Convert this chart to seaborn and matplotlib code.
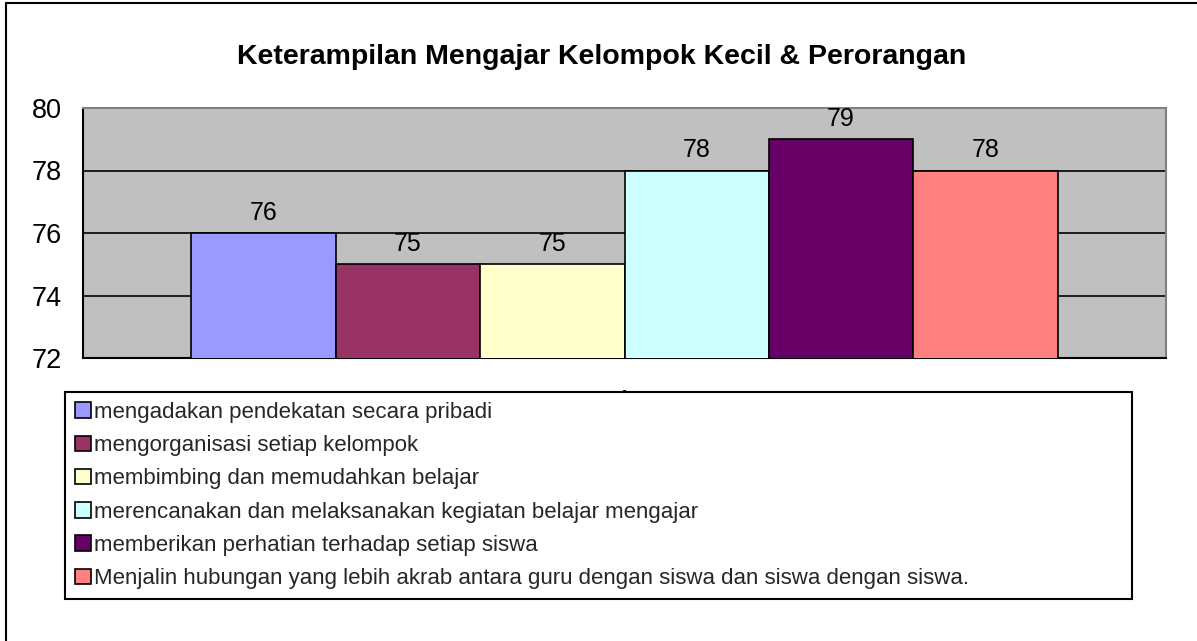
import numpy as np
import pandas as pd
import matplotlib
matplotlib.use('Agg')
import matplotlib.pyplot as plt
import seaborn as sns
from matplotlib.lines import Line2D

# data
categories = [
    'mengadakan pendekatan secara pribadi',
    'mengorganisasi setiap kelompok',
    'membimbing dan memudahkan belajar',
    'merencanakan dan melaksanakan kegiatan belajar mengajar',
    'memberikan perhatian terhadap setiap siswa',
    'Menjalin hubungan yang lebih akrab antara guru dengan siswa dan siswa dengan siswa.',
]
values = [76, 75, 75, 78, 79, 78]
group = ['1'] * len(values)
colors = ['#9999FF', '#993366', '#FFFFCC', '#CCFFFF', '#660066', '#FF8080']
title = 'Keterampilan Mengajar Kelompok Kecil & Perorangan'

df = pd.DataFrame({'group': group, 'aspek': categories, 'nilai': values})

sns.set_theme(style='white')
plt.rcParams['font.family'] = ['Liberation Sans', 'DejaVu Sans']

fig = plt.figure(figsize=(11.97, 6.41), dpi=100)
W, H = 1197, 641
ax = fig.add_axes([83 / W, 1 - 358 / H, (1166 - 83) / W, (358 - 108) / H])
ax.set_facecolor('#C0C0C0')

sns.barplot(data=df, x='group', y='nilai', hue='aspek', hue_order=categories,
            palette=colors, width=0.8, edgecolor='black', linewidth=1.2,
            saturation=1, ax=ax, zorder=3)

ax.set_ylim(72, 80)
ax.set_xlim(-0.5, 0.5)
ax.set_yticks([72, 74, 76, 78, 80])
ax.yaxis.grid(True, color='black', linewidth=1.2, zorder=0)
ax.set_axisbelow(True)
ax.tick_params(axis='y', length=0, pad=15, labelsize=19.5, labelcolor='black')
ax.tick_params(axis='x', length=0, pad=22, labelsize=19, labelcolor='black')
ax.set_xlabel('')
ax.set_ylabel('')

for c in ax.containers:
    ax.bar_label(c, fmt='%d', padding=6, fontsize=18, color='black')

for s in ['top', 'right']:
    ax.spines[s].set_color('#808080')
    ax.spines[s].set_linewidth(1.5)
for s in ['left', 'bottom']:
    ax.spines[s].set_color('black')
    ax.spines[s].set_linewidth(1.5)

fig.text(602 / W, 1 - 57 / H, title, ha='center', va='center',
         fontsize=20.5, fontweight='bold', color='black')

ax.get_legend().remove()
handles, labels = ax.get_legend_handles_labels()
leg_top = 1 - 392 / H
leg = fig.legend(handles, labels, loc='upper left',
                 bbox_to_anchor=(65 / W, leg_top - 0.4, (1132 - 65) / W, 0.4),
                 mode='expand', fontsize=16,
                 frameon=True, fancybox=False, edgecolor='black',
                 facecolor='white', framealpha=1, handlelength=0.7,
                 handleheight=0.7, handletextpad=0.15, labelspacing=0.55,
                 borderpad=0.45, borderaxespad=0)
leg.get_frame().set_linewidth(1.5)
leg.set_zorder(10)

# outer chart frame
fig.add_artist(Line2D([6 / W, 6 / W], [0, 1 - 3 / H], color='black', linewidth=1.5))
fig.add_artist(Line2D([6 / W, 1], [1 - 3 / H, 1 - 3 / H], color='black', linewidth=1.5))

fig.savefig('out.png', dpi=100)
